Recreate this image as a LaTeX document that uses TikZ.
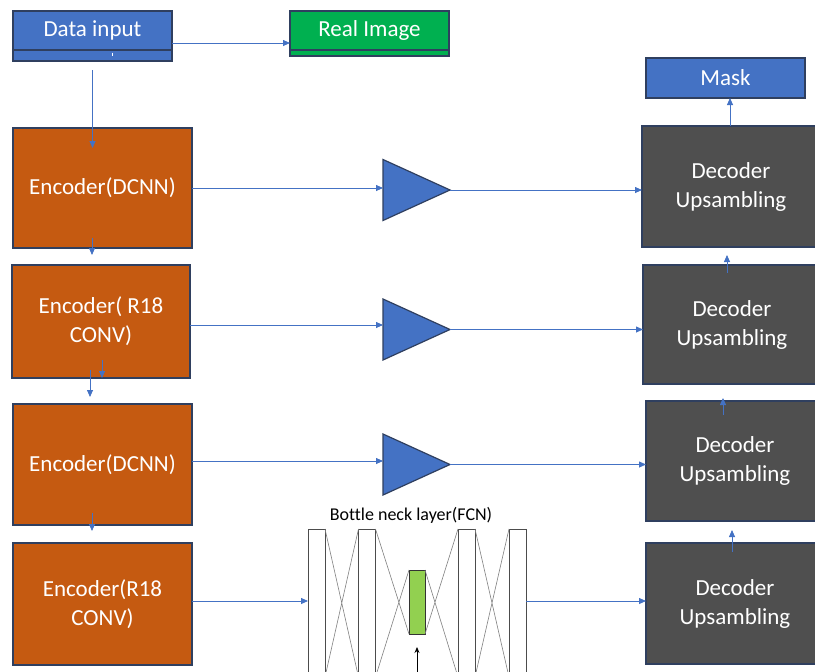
\documentclass[tikz,border=0pt]{standalone}
\usepackage{fontspec}
\setmainfont{Carlito}[Ligatures=CommonOff]
\usetikzlibrary{arrows.meta,shapes.geometric}
\definecolor{boxblue}{HTML}{4472C4}
\definecolor{edgedark}{HTML}{2F3F5F}
\definecolor{encorange}{HTML}{C55A11}
\definecolor{decgray}{HTML}{4F4F4F}
\definecolor{realgreen}{HTML}{00B050}
\definecolor{coregreen}{HTML}{92D050}
\definecolor{linkblue}{HTML}{4472C4}
\tikzset{
  conn/.style={draw=linkblue, line width=0.8pt, -{Triangle[length=7pt,width=6pt]}},
  bigtext/.style={font=\fontsize{23}{29}\selectfont},
  topbox/.style={draw=edgedark, line width=1.2pt, text=white, bigtext, inner sep=0pt, outer sep=0pt, minimum width=159pt},
  strip/.style={draw=edgedark, line width=1.2pt},
  encbox/.style={draw=edgedark, line width=1.2pt, fill=encorange, text=white, bigtext, align=center, inner sep=0pt, outer sep=0pt, minimum width=179pt},
  decbox/.style={draw=edgedark, line width=1.2pt, fill=decgray, text=white, bigtext, align=center, inner sep=0pt, outer sep=0pt, minimum width=178pt},
  ampl/.style={isosceles triangle, isosceles triangle stretches, draw=edgedark, line width=1.2pt, fill=boxblue, minimum width=61pt, minimum height=67pt, inner sep=0pt, outer sep=0pt, anchor=west},
  fcbar/.style={draw=black!70, line width=1pt, fill=white, minimum width=17pt, minimum height=148pt, inner sep=0pt, outer sep=0pt},
  fccore/.style={draw=black!80, line width=1pt, fill=coregreen, minimum width=16pt, minimum height=64pt, inner sep=0pt, outer sep=0pt},
  fclink/.style={draw=black!50, line width=0.6pt},
}
\begin{document}
\begin{tikzpicture}[x=1pt,y=-1pt]
\useasboundingbox (0,0) rectangle (815,672);
\clip (0,0) rectangle (815,672);
\fill[white] (0,0) rectangle (815,672);

\node[topbox, fill=boxblue, minimum height=39pt] (din) at (92.5,30.5) {Data input};
\draw[strip, fill=boxblue] (din.south west) rectangle ([yshift=-11pt]din.south east);
\draw[white, line width=0.8pt] (112,52.5) -- (112,55.5);
\node[topbox, fill=realgreen, minimum height=39pt] (real) at (369.5,30.5) {Real Image};
\draw[strip, fill=realgreen] (real.south west) rectangle ([yshift=-6pt]real.south east);
\node[topbox, fill=boxblue, minimum height=40pt] (mask) at (725.5,78) {Mask};

\node[encbox, minimum height=120pt] (enc1) at (102.5,188) {Encoder(DCNN)};
\node[encbox, minimum height=113pt, minimum width=178pt] (enc2) at (101,321.5) {Encoder( R18\\CONV)};
\node[encbox, minimum height=121pt] (enc3) at (102.5,464.5) {Encoder(DCNN)};
\node[encbox, minimum height=122pt] (enc4) at (102.5,604) {Encoder(R18\\CONV)};

\node[decbox, minimum height=121pt] (dec1) at (731,186.5) {Decoder\\Upsambling};
\node[decbox, minimum height=119pt] (dec2) at (732,324.5) {Decoder\\Upsambling};
\node[decbox, minimum height=120pt] (dec3) at (735,461) {Decoder\\Upsambling};
\node[decbox, minimum height=121pt] (dec4) at (735,603.5) {Decoder\\Upsambling};

\node[ampl] (amp1) at (383,190) {};
\node[ampl] (amp2) at (383,329.5) {};
\node[ampl] (amp3) at (383,464.5) {};

\node[fcbar] (fcA) at (316.5,603) {};
\node[fcbar] (fcB) at (367,603) {};
\node[fccore] (fcM) at (417,602) {};
\node[fcbar] (fcC) at (466.5,603) {};
\node[fcbar] (fcD) at (517.5,603) {};
\node[font=\fontsize{18}{22}\selectfont] (fclabel) at (411,515) {Bottle neck layer(FCN)};

\draw[fclink] (fcA.north east) -- (fcB.south west) (fcA.south east) -- (fcB.north west);
\draw[fclink] (fcB.north east) -- (fcM.south west) (fcB.south east) -- (fcM.north west);
\draw[fclink] (fcM.north east) -- (fcC.south west) (fcM.south east) -- (fcC.north west);
\draw[fclink] (fcC.north east) -- (fcD.south west) (fcC.south east) -- (fcD.north west);
\draw[-{Stealth[length=6pt,width=5pt]}, line width=0.8pt] ([yshift=-50pt]fcM.south) -- ([yshift=-13pt]fcM.south);

\draw[conn] ([yshift=-12.5pt]din.east) -- ([yshift=-12.5pt]din.east -| real.west);
\draw[conn] ([yshift=-20pt]din.south) -- ([yshift=-20pt]din.south |- enc1.north);
\draw[conn] ([xshift=-10.5pt,yshift=10pt]enc1.south) -- ([xshift=-10.5pt,yshift=10pt]enc1.south |- enc2.north);
\draw[conn] ([xshift=1pt,yshift=18pt]enc2.south) -- ([xshift=1pt]enc2.south);
\draw[conn] ([xshift=-11pt,yshift=8pt]enc2.south) -- ([xshift=-11pt,yshift=-19pt]enc2.south);
\draw[conn] ([xshift=-10.5pt,yshift=12pt]enc3.south) -- ([xshift=-10.5pt,yshift=12pt]enc3.south |- enc4.north);

\draw[conn] (enc1.east) -- (enc1.east -| amp1.west);
\draw[conn] (amp1.apex) -- (amp1.apex -| dec1.west);
\draw[conn] ([yshift=-3.5pt]enc2.east) -- ([yshift=-3.5pt]enc2.east -| amp2.west);
\draw[conn] (amp2.apex) -- (amp2.apex -| dec2.west);
\draw[conn] ([yshift=3.5pt]enc3.east) -- ([yshift=3.5pt]enc3.east -| amp3.west);
\draw[conn] (amp3.apex) -- (amp3.apex -| dec3.west);
\draw[conn] ([yshift=3pt]enc4.east) -- ([yshift=3pt]enc4.east -| fcA.west);
\draw[conn] ([yshift=2pt]fcD.east) -- ([yshift=2pt]fcD.east -| dec4.west);

\draw[conn] ([xshift=-1pt]dec1.north) -- ([xshift=-1pt]dec1.north |- mask.south);
\draw[conn] ([xshift=-5pt,yshift=-8pt]dec2.north) -- ([xshift=-5pt,yshift=-8pt]dec2.north |- dec1.south);
\draw[conn] ([xshift=-12pt,yshift=-14pt]dec3.north) -- ([xshift=-12pt,yshift=-14pt]dec3.north |- dec2.south);
\draw[conn] ([xshift=-3pt,yshift=-9pt]dec4.north) -- ([xshift=-3pt,yshift=-9pt]dec4.north |- dec3.south);
\end{tikzpicture}
\end{document}
